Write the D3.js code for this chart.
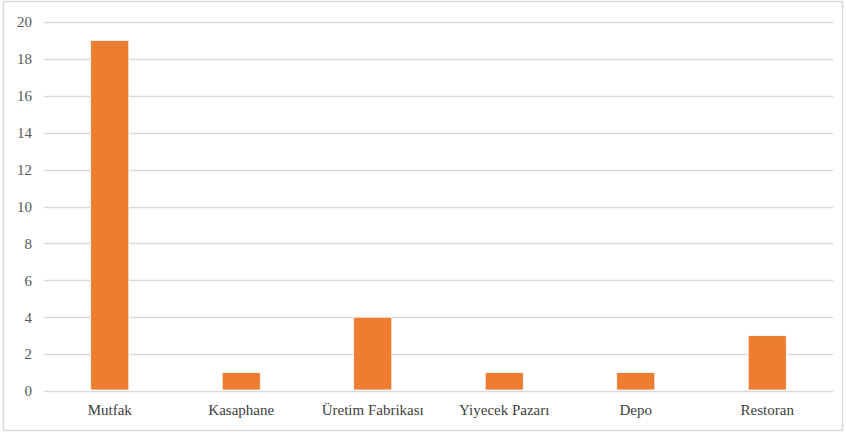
<!DOCTYPE html>
<html><head><meta charset="utf-8">
<script src="https://cdn.jsdelivr.net/npm/d3@7/dist/d3.min.js"></script>
<style>body{margin:0;background:#fff}svg{display:block}</style>
</head><body>
<script>
const categories = ["Mutfak","Kasaphane","Üretim Fabrikası","Yiyecek Pazarı","Depo","Restoran"];
const values = [19,1,4,1,1,3];
const yTicks = [0,2,4,6,8,10,12,14,16,18,20];

const W=846,H=434;
const font='"Liberation Serif","Times New Roman",serif';
const svg=d3.select("body").append("svg").attr("width",W).attr("height",H);
svg.append("rect").attr("x",3.5).attr("y",1.5).attr("width",839).attr("height",429)
  .attr("fill","#fff").attr("stroke","#d9d9d9").attr("stroke-width",1.5);

const x=d3.scaleBand().domain(categories).range([44,833]).padding(0);
const y=d3.scaleLinear().domain([0,20]).range([391,22]);

const g=svg.append("g");
g.selectAll("line.grid").data(yTicks).join("line")
  .attr("x1",44).attr("x2",833).attr("y1",d=>Math.round(y(d))+0.5).attr("y2",d=>Math.round(y(d))+0.5)
  .attr("stroke","#d9d9d9").attr("stroke-width",1.3);

const yAxis=d3.axisLeft(y).tickValues(yTicks).tickSize(0).tickPadding(0);
const ya=svg.append("g").attr("transform","translate(32,0)").call(yAxis);
ya.select(".domain").remove();
ya.selectAll("text").style("font-family",font).style("font-size","15px").style("fill","#595959");

const bw=x.bandwidth()*0.29;
g.selectAll("rect.bar").data(values).join("rect")
  .attr("x",(d,i)=>x(categories[i])+x.bandwidth()/2-bw/2)
  .attr("y",d=>y(d)).attr("width",bw).attr("height",d=>y(0)-y(d)-1)
  .attr("fill","#ed7d31").attr("stroke","#fff").attr("stroke-width",0.8);

const xAxis=d3.axisBottom(x).tickSize(0).tickPadding(0);
const xa=svg.append("g").attr("transform","translate(0,404)").call(xAxis);
xa.select(".domain").remove();
xa.selectAll("text").style("font-family",font).style("font-size","15px").style("fill","#404040").attr("dy","0.71em");
</script>
</body></html>
